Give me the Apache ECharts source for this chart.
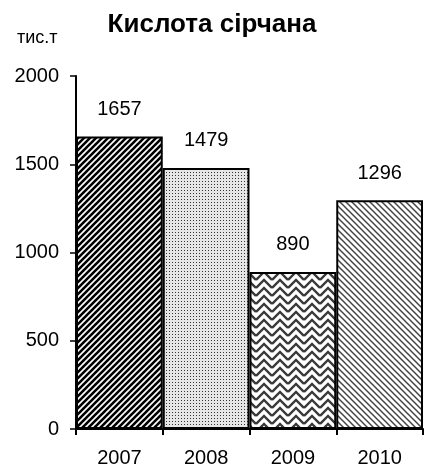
<!DOCTYPE html>
<html><head><meta charset="utf-8">
<script src="https://cdn.jsdelivr.net/npm/echarts@6/dist/echarts.min.js"></script>
<style>html,body{margin:0;padding:0;background:#fff}#c{width:424px;height:473px}</style>
</head><body><div id="c"></div>
<script>
const categories = ['2007', '2008', '2009', '2010'];
const values = [1657, 1479, 890, 1296];
const yTicks = [0, 500, 1000, 1500, 2000];
const titleText = 'Кислота сірчана';
const unitText = 'тис.т';

function mk(w, h, draw) {
  const c = document.createElement('canvas');
  c.width = w; c.height = h;
  const g = c.getContext('2d');
  g.fillStyle = '#fff'; g.fillRect(0, 0, w, h);
  draw(g, w, h);
  return { image: c, repeat: 'repeat' };
}
function lines(g, arr) {
  arr.forEach(l => { g.beginPath(); g.moveTo(l[0], l[1]); g.lineTo(l[2], l[3]); g.stroke(); });
}
const pat2007 = mk(6, 6, (g, s) => {
  g.strokeStyle = '#000'; g.lineWidth = 2.6;
  lines(g, [[-s, s, s, -s], [0, s, s, 0], [0, 2 * s, 2 * s, 0]]);
});
const pat2008 = mk(3, 3, (g) => {
  g.fillStyle = '#e6e6e6'; g.fillRect(0, 0, 3, 3);
  g.fillStyle = '#333'; g.fillRect(1, 1, 1, 1);
});
const pat2009 = mk(16, 8, (g, w, h) => {
  g.strokeStyle = '#3a3a3a'; g.lineWidth = 2.4;
  for (let dy = -8; dy <= 8; dy += 8) {
    g.beginPath();
    g.moveTo(0, 8 + dy); g.lineTo(8, 0 + dy); g.lineTo(16, 8 + dy);
    g.stroke();
  }
});
const pat2010 = mk(6, 6, (g, s) => {
  g.strokeStyle = '#444'; g.lineWidth = 1.5;
  lines(g, [[0, -s, 2 * s, s], [0, 0, s, s], [-s, 0, s, 2 * s]]);
});
const patterns = [pat2007, pat2008, pat2009, pat2010];

const chart = echarts.init(document.getElementById('c'), null, { renderer: 'canvas' });
chart.setOption({
  animation: false,
  title: [
    { text: titleText, left: 'center', top: 7,
      textStyle: { fontFamily: 'Liberation Sans', fontWeight: 'bold', fontSize: 26, color: '#000' } },
    { text: unitText, left: 12, top: 24,
      textStyle: { fontFamily: 'Liberation Sans', fontWeight: 'normal', fontSize: 18, color: '#000' } }
  ],
  grid: { left: 76, right: 1, top: 76, bottom: 44 },
  xAxis: {
    type: 'category', data: categories,
    axisLine: { lineStyle: { color: '#000', width: 2 } },
    axisTick: { show: true, length: 6, lineStyle: { color: '#000', width: 2 } },
    axisLabel: { color: '#000', fontFamily: 'Liberation Sans', fontSize: 20, margin: 19 }
  },
  yAxis: {
    type: 'value', min: yTicks[0], max: yTicks[yTicks.length - 1], interval: 500,
    axisLine: { show: true, lineStyle: { color: '#000', width: 2 } },
    axisTick: { show: true, length: 6, lineStyle: { color: '#000', width: 1.5 } },
    axisLabel: { color: '#000', fontFamily: 'Liberation Sans', fontSize: 20, margin: 17,
      formatter: v => String(v) },
    splitLine: { show: false }
  },
  series: [{
    type: 'bar',
    barCategoryGap: 0,
    data: values.map((v, i) => ({ value: v, itemStyle: { color: patterns[i] } })),
    itemStyle: { borderColor: '#000', borderWidth: 2 },
    label: { show: true, position: 'top', distance: 17, color: '#000',
      fontFamily: 'Liberation Sans', fontSize: 20 }
  }]
});
</script></body></html>
